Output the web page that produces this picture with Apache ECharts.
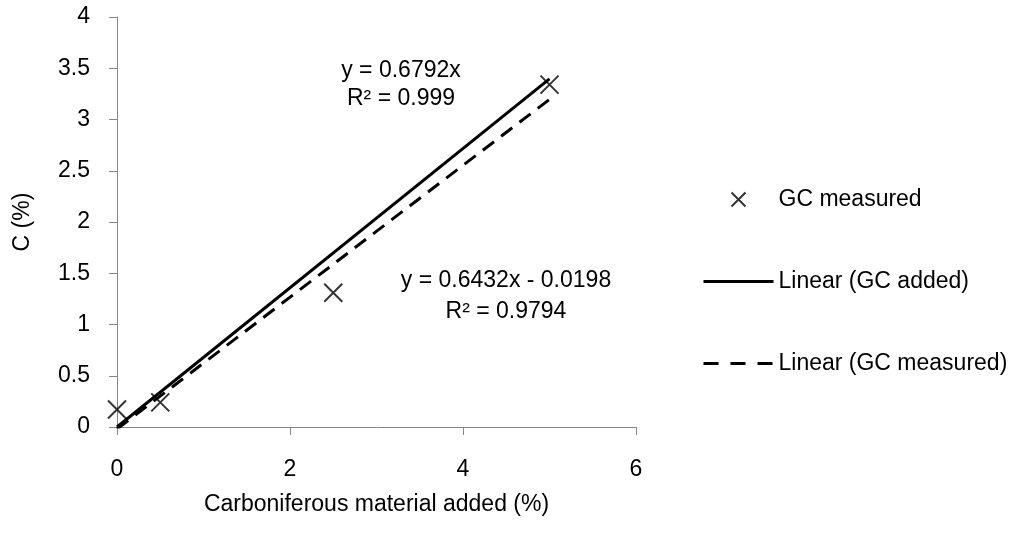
<!DOCTYPE html>
<html>
<head>
<meta charset="utf-8">
<script src="https://cdn.jsdelivr.net/npm/echarts@6/dist/echarts.min.js"></script>
<style>
html,body{margin:0;padding:0;background:#fff;}
#chart{width:1015px;height:538px;}
</style>
</head>
<body>
<div id="chart"></div>
<script>
// ---- data ----
const measuredX = [0, 0.5, 2.5, 5];
const measuredY = [0.17, 0.24, 1.31, 3.34];
// trend line end points (from the fitted equations shown on the chart)
const addedTrendX = [0, 5];
const addedTrendY = [0, 3.396];
const measuredTrendX = [0, 5];
const measuredTrendY = [-0.0198, 3.196];
const xTicks = [0, 2, 4, 6];
const yTicks = [0, 0.5, 1, 1.5, 2, 2.5, 3, 3.5, 4];
const seriesNames = ['GC measured', 'Linear (GC added)', 'Linear (GC measured)'];
const eqAdded = ['y = 0.6792x', 'R² = 0.999'];
const eqMeasured = ['y = 0.6432x - 0.0198', 'R² = 0.9794'];

const FONT = '"Liberation Sans", Arial, sans-serif';
const FS = 23;
const pair = (xs, ys) => xs.map((x, i) => [x, ys[i]]);
const crossPath = 'path://M0,0L10,10M10,0L0,10';

const chart = echarts.init(document.getElementById('chart'), null, {renderer: 'canvas'});
chart.setOption({
  animation: false,
  backgroundColor: '#ffffff',
  textStyle: {fontFamily: FONT},
  grid: {left: 117, right: 379, top: 17, bottom: 111, containLabel: false},
  xAxis: {
    type: 'value', min: xTicks[0], max: xTicks[xTicks.length - 1], interval: 2,
    name: 'Carboniferous material added (%)', nameLocation: 'middle', nameGap: 66,
    nameTextStyle: {fontFamily: FONT, fontSize: FS, color: '#000'},
    axisLine: {show: true, lineStyle: {color: '#868686', width: 1}},
    axisTick: {show: true, length: 8, lineStyle: {color: '#868686'}},
    axisLabel: {fontFamily: FONT, fontSize: FS, color: '#000', margin: 31},
    splitLine: {show: false}
  },
  yAxis: {
    type: 'value', min: yTicks[0], max: yTicks[yTicks.length - 1], interval: 0.5,
    name: 'C (%)', nameLocation: 'middle', nameGap: 83, nameRotate: 90,
    nameTextStyle: {fontFamily: FONT, fontSize: FS, color: '#000'},
    axisLine: {show: true, lineStyle: {color: '#868686', width: 1}},
    axisTick: {show: true, length: 8, lineStyle: {color: '#868686'}},
    axisLabel: {fontFamily: FONT, fontSize: FS, color: '#000', margin: 27},
    splitLine: {show: false}
  },
  legend: {
    orient: 'vertical', left: 702, top: 188, padding: 0,
    itemWidth: 70, itemHeight: 14, itemGap: 59,
    symbolKeepAspect: true,
    lineStyle: {width: 3},
    textStyle: {fontFamily: FONT, fontSize: FS, color: '#000'},
    data: [
      {name: seriesNames[0]},
      {name: seriesNames[1], lineStyle: {width: 3, type: 'solid'}},
      {name: seriesNames[2], lineStyle: {width: 3, type: [15, 12]}}
    ]
  },
  series: [
    {
      name: seriesNames[0], type: 'scatter', data: pair(measuredX, measuredY),
      symbol: crossPath, symbolSize: 18, symbolKeepAspect: true,
      itemStyle: {color: 'rgba(0,0,0,0)', borderColor: '#000', borderWidth: 2},
      z: 3
    },
    {
      name: seriesNames[1], type: 'line', data: pair(addedTrendX, addedTrendY),
      symbol: 'circle', showSymbol: false, symbolSize: 0,
      lineStyle: {color: '#000', width: 3, type: 'solid'},
      itemStyle: {color: 'rgba(0,0,0,0)', borderWidth: 0},
      z: 2
    },
    {
      name: seriesNames[2], type: 'line', data: pair(measuredTrendX, measuredTrendY),
      symbol: 'circle', showSymbol: false, symbolSize: 0,
      lineStyle: {color: '#000', width: 3, type: [14, 9]},
      itemStyle: {color: 'rgba(0,0,0,0)', borderWidth: 0},
      z: 2
    }
  ],
  graphic: [
    {type: 'text', x: 401, y: 85, style: {text: eqAdded.join('\n'), font: FS + 'px ' + FONT, fill: '#000', align: 'center', verticalAlign: 'middle', lineHeight: 28}},
    {type: 'text', x: 506, y: 296, style: {text: eqMeasured.join('\n'), font: FS + 'px ' + FONT, fill: '#000', align: 'center', verticalAlign: 'middle', lineHeight: 31}}
  ]
});
</script>
</body>
</html>
